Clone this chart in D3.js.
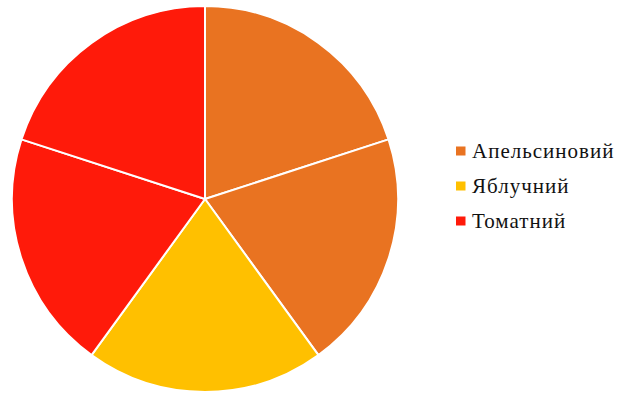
<!DOCTYPE html>
<html>
<head>
<meta charset="utf-8">
<script src="https://cdn.jsdelivr.net/npm/d3@7"></script>
<style>
  body { margin: 0; background: #fff; }
  .legend text { font-family: 'Liberation Serif', 'Times New Roman', serif; }
</style>
</head>
<body>
<div class="canvas"></div>
<script>
const categories = ['Апельсиновий', 'Яблучний', 'Томатний'];
const colors = ['#E97321', '#FFC000', '#FF1A0A'];
// each slice belongs to one category
const sliceCategories = ['Апельсиновий', 'Апельсиновий', 'Яблучний', 'Томатний', 'Томатний'];
const sliceValues = [1, 1, 1, 1, 1];

const width = 623, height = 396;
const cx = 205, cy = 199, radius = 193;

const svg = d3.select('.canvas')
  .append('svg')
  .attr('width', width)
  .attr('height', height);

const color = d3.scaleOrdinal()
  .domain(categories)
  .range(colors);

const slices = sliceValues.map((v, i) => ({ cat: sliceCategories[i], value: v }));

const pie = d3.pie()
  .sort(null)
  .value(d => d.value);

const arc = d3.arc()
  .innerRadius(0)
  .outerRadius(radius);

const graph = svg.append('g')
  .attr('transform', `translate(${cx}, ${cy})`);

graph.selectAll('path')
  .data(pie(slices))
  .enter()
  .append('path')
  .attr('d', arc)
  .attr('fill', d => color(d.data.cat))
  .attr('stroke', '#fff')
  .attr('stroke-width', 2)
  .attr('stroke-linejoin', 'round');

// legend, rows placed on text baselines
const legend = svg.append('g')
  .attr('class', 'legend')
  .attr('transform', 'translate(456, 158)');

const items = legend.selectAll('g')
  .data(categories)
  .enter()
  .append('g')
  .attr('transform', (d, i) => `translate(0, ${i * 35})`);

items.append('rect')
  .attr('x', 0)
  .attr('y', -11.5)
  .attr('width', 9.5)
  .attr('height', 9)
  .attr('fill', d => color(d));

items.append('text')
  .attr('x', 16)
  .attr('y', 0)
  .attr('font-size', 21)
  .attr('letter-spacing', 1)
  .attr('fill', '#111')
  .text(d => d);
</script>
</body>
</html>
